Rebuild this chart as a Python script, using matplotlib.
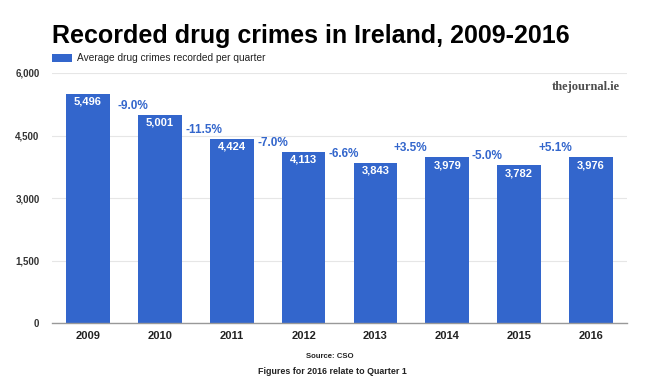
import matplotlib
matplotlib.use("Agg")
import matplotlib.pyplot as plt
from matplotlib.patches import Rectangle

plt.rcParams["font.family"] = ["Liberation Sans", "DejaVu Sans"]

# ---------------------------------------------------------------------------
# Data
# ---------------------------------------------------------------------------
years = ["2009", "2010", "2011", "2012", "2013", "2014", "2015", "2016"]
crimes = [5496, 5001, 4424, 4113, 3843, 3979, 3782, 3976]
changes = ["-9.0%", "-11.5%", "-7.0%", "-6.6%", "+3.5%", "-5.0%", "+5.1%"]
y_ticks = [0, 1500, 3000, 4500, 6000]

BLUE = "#3366cc"
# small horizontal nudges (in bar slots) for the change labels
nudges = [0.125, 0.11, 0.08, 0.055, -0.015, 0.057, 0.01]

fig = plt.figure(figsize=(6.5, 3.89), dpi=100)
ax = fig.add_axes([52 / 650, 66 / 389, 575 / 650, 250 / 389])

xs = list(range(len(years)))
ax.bar(xs, crimes, width=0.61, color=BLUE, zorder=3)

ax.set_xlim(-0.5, len(years) - 0.5)
ax.set_ylim(0, 6000)
ax.set_yticks(y_ticks)
ax.set_yticklabels([f"{v:,}" for v in y_ticks], fontsize=7,
                   fontweight="bold", color="#333333")
ax.set_xticks(xs)
ax.set_xticklabels(years, fontsize=8, fontweight="bold", color="#222222")
ax.tick_params(axis="both", length=0)
ax.tick_params(axis="y", pad=9)
ax.tick_params(axis="x", pad=6)

for s in ("top", "right", "left"):
    ax.spines[s].set_visible(False)
ax.spines["bottom"].set_color("#999999")
ax.spines["bottom"].set_linewidth(1)
ax.spines["bottom"].set_zorder(4)
ax.yaxis.grid(True, color="#e6e6e6", linewidth=0.8, zorder=0)
ax.set_axisbelow(True)

# value labels inside the bars
for x, v in zip(xs, crimes):
    ax.annotate(f"{v:,}", (x, v), xytext=(0, -8), textcoords="offset pixels",
                ha="center", va="center", fontsize=8, fontweight="bold",
                color="white", zorder=5)

# change labels between bars, just above the next bar
for i, lab in enumerate(changes):
    ax.annotate(lab, (i + 0.5 + nudges[i], crimes[i + 1]), xytext=(0, 9),
                textcoords="offset pixels", ha="center", va="center",
                fontsize=8.5, fontweight="bold", color=BLUE, zorder=5)

# title and legend
fig.text(52 / 650, 1 - 43 / 389, "Recorded drug crimes in Ireland, 2009-2016",
         fontsize=18, fontweight="bold", color="black", ha="left",
         va="baseline")
fig.patches.append(Rectangle((52 / 650, 1 - 62 / 389), 20 / 650, 8 / 389,
                             transform=fig.transFigure, facecolor=BLUE,
                             edgecolor="none"))
fig.text(77 / 650, 1 - 58 / 389, "Average drug crimes recorded per quarter",
         fontsize=7.3, color="#222222", ha="left", va="center")

# watermark
fig.text(620 / 650, 1 - 87 / 389, "thejournal.ie", fontsize=9,
         fontweight="bold", family=["Liberation Serif", "DejaVu Serif"],
         color="#4d4d4d", ha="right", va="center")

# footnotes
fig.text(330 / 650, 1 - 357 / 389, "Source: CSO", fontsize=5.6,
         fontweight="bold", color="#222222", ha="center", va="center")
fig.text(332 / 650, 1 - 372 / 389, "Figures for 2016 relate to Quarter 1",
         fontsize=6.4, fontweight="bold", color="#222222", ha="center",
         va="center")

fig.savefig("out.png", dpi=100)
